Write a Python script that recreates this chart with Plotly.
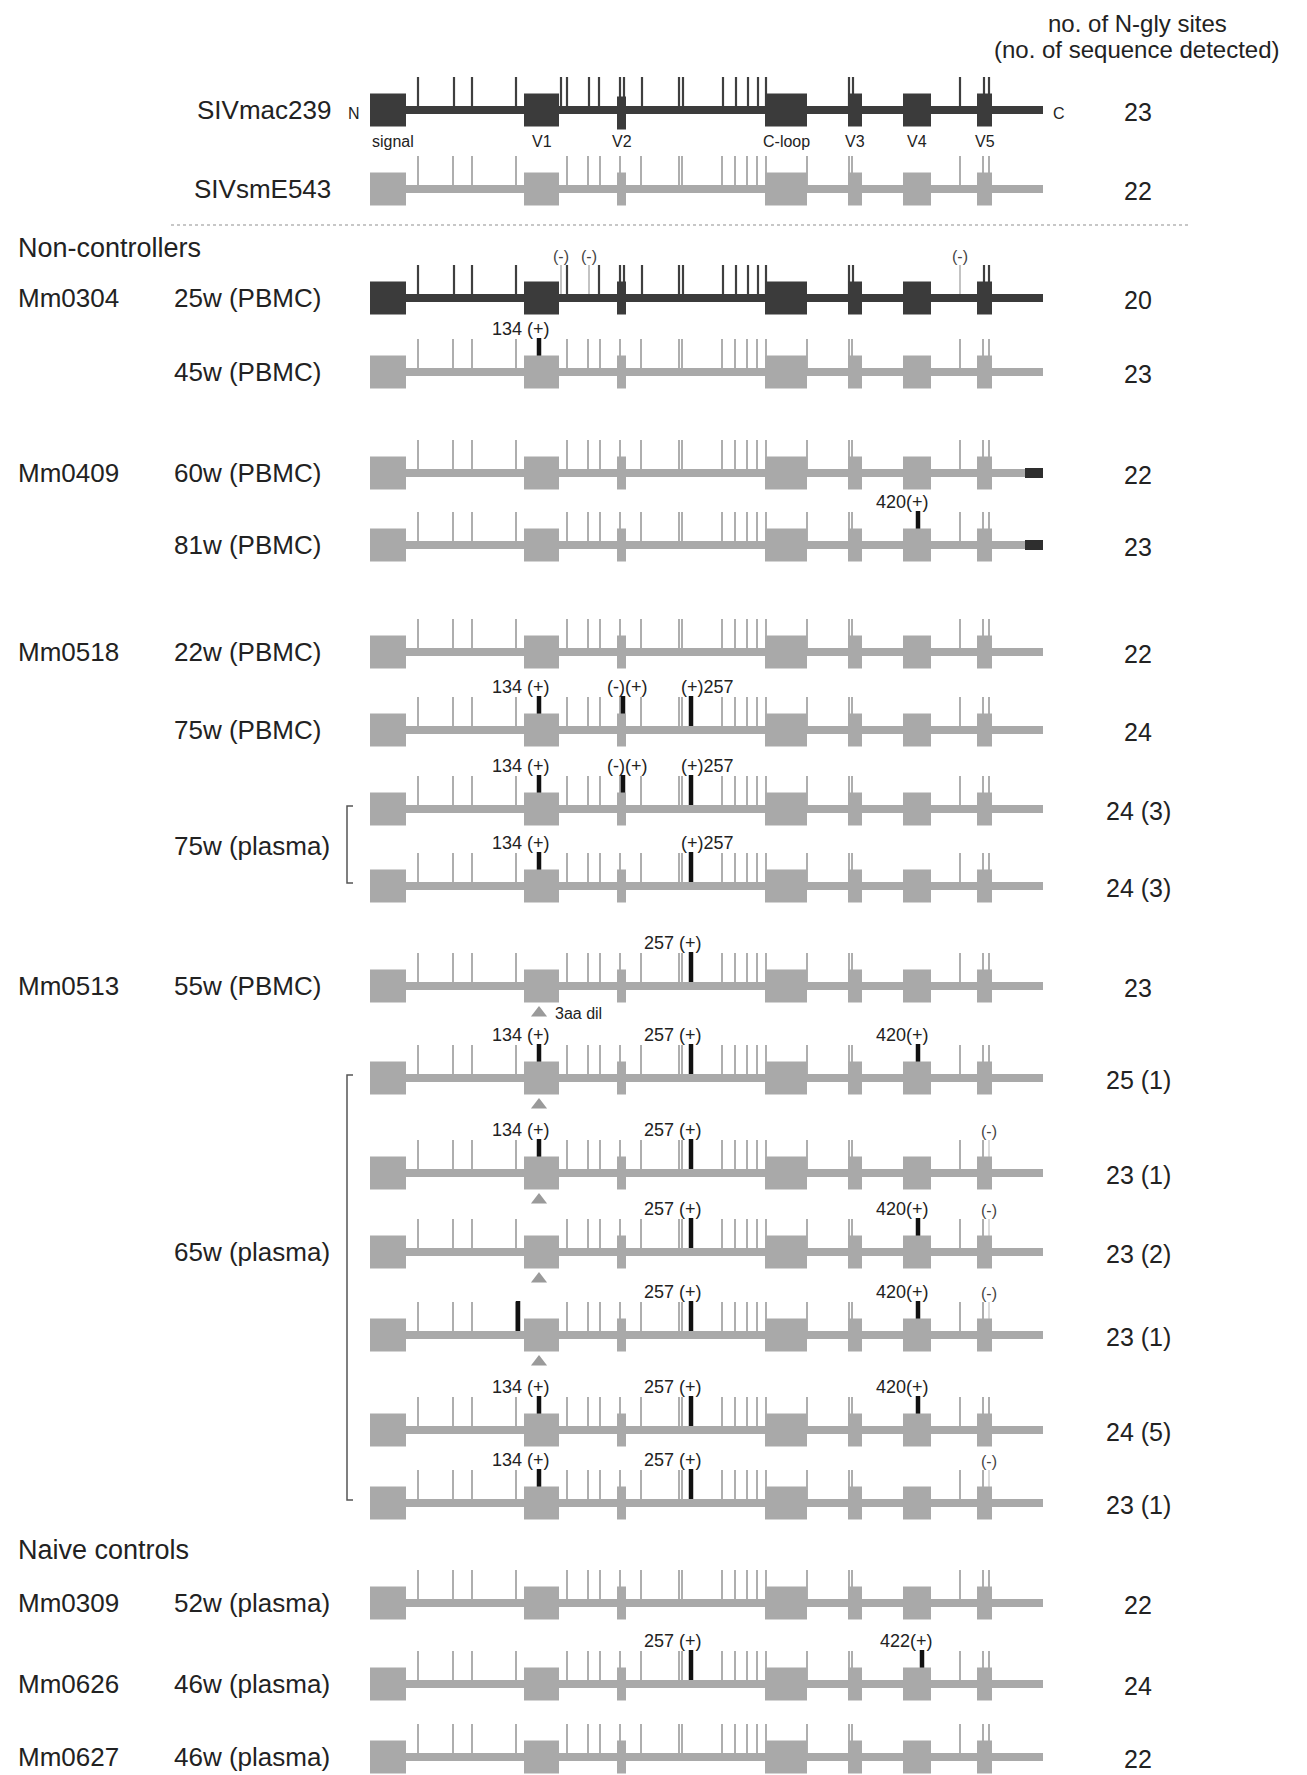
import plotly.graph_objects as go

W, H = 1307, 1775
PAGE_MARGIN = 8  # default body margin of the written page
FONT = "Liberation Sans, Arial, sans-serif"

# ---------------- data ----------------
# Env regions (diagram scale along the Env backbone)
region_names = ["signal", "V1", "V2", "C-loop", "V3", "V4", "V5"]
region_start = [370, 524, 617, 765, 848, 903, 977]
region_end = [406, 559, 626, 807, 862, 931, 992]
env_extent = [370, 1043]
ctail_extent = [1025, 1043]

# N-glycosylation sites of the reference viruses (diagram scale)
sites_mac239 = [418, 454, 472, 516, 561, 567, 589, 599, 620, 624, 642, 679, 683,
                723, 736, 748, 758, 766, 849, 853, 960, 984, 989]
sites_smE543 = [418, 453, 472, 516, 567, 588, 600, 620, 641, 679, 682, 722, 735,
                747, 757, 766, 807, 849, 852, 960, 983, 989]

animal_labels = ["", "", "Mm0304", "", "Mm0409", "", "Mm0518", "", "", "",
                 "Mm0513", "", "", "", "", "", "", "Mm0309", "Mm0626", "Mm0627"]
sample_labels = ["SIVmac239", "SIVsmE543", "25w (PBMC)", "45w (PBMC)", "60w (PBMC)",
                 "81w (PBMC)", "22w (PBMC)", "75w (PBMC)", "", "", "55w (PBMC)",
                 "", "", "", "", "", "", "52w (plasma)", "46w (plasma)", "46w (plasma)"]
n_sites_labels = ["23", "22", "20", "23", "22", "23", "22", "24", "24 (3)", "24 (3)",
                  "23", "25 (1)", "23 (1)", "23 (2)", "23 (1)", "24 (5)", "23 (1)",
                  "22", "24", "22"]
row_base = ["mac", "sm", "mac", "sm", "sm", "sm", "sm", "sm", "sm", "sm",
            "sm", "sm", "sm", "sm", "sm", "sm", "sm", "sm", "sm", "sm"]
gained_sites = [[], [], [], [539], [], [918], [], [539, 623, 691], [539, 623, 691],
                [539, 691], [691], [539, 691, 918], [539, 691], [691, 918],
                [518, 691, 918], [539, 691, 918], [539, 691], [], [691, 922], []]
gained_labels = [[], [], [], ["134 (+)"], [], ["420(+)"], [],
                 ["134 (+)", "(-)(+)", "(+)257"], ["134 (+)", "(-)(+)", "(+)257"],
                 ["134 (+)", "(+)257"], ["257 (+)"], ["134 (+)", "257 (+)", "420(+)"],
                 ["134 (+)", "257 (+)"], ["257 (+)", "420(+)"], ["", "257 (+)", "420(+)"],
                 ["134 (+)", "257 (+)", "420(+)"], ["134 (+)", "257 (+)"], [],
                 ["257 (+)", "422(+)"], []]
lost_sites = [[], [], [561, 589, 960], [], [], [], [], [], [], [], [], [],
              [989], [989], [989], [], [989], [], [], []]
v1_deletion = [False] * 10 + [True, True, True, True, True, False, False, False, False, False]
ctail_variant = [False, False, False, False, True, True] + [False] * 14

plasma_groups = [("75w (plasma)", 8, 9), ("65w (plasma)", 11, 16)]
section_titles = [("Non-controllers", 248), ("Naive controls", 1550)]
header_lines = ["no. of N-gly sites", "(no. of sequence detected)"]

# ---------------- layout constants ----------------
row_y = [110, 189, 298, 372, 473, 545, 652, 730, 809, 886, 986, 1078, 1173, 1252,
         1335, 1430, 1503, 1603, 1684, 1757]
group_label_y = {"75w (plasma)": 846, "65w (plasma)": 1252}
header_y = [23, 49]
dark_rows = {0, 2}
BOX_H = 16.5
BB_H = 4
TICK_H = 33
DARK = "#3b3b3b"
LIGHT = "#a9a9a9"

fig = go.Figure()
shapes = []
annotations = []


def ann(x, y, text, size, xanchor="center", yanchor="middle", color="#222"):
    annotations.append(dict(x=x, y=y, xref="x", yref="y", text=text, showarrow=False,
                            xanchor=xanchor, yanchor=yanchor,
                            font=dict(family=FONT, size=size, color=color)))


tick_sets = {"dark": ([], []), "light": ([], []), "gain": ([], []),
             "lost_light": ([], []), "lost_dark": ([], [])}


def add_tick(kind, x, y0, y1):
    xs, ys = tick_sets[kind]
    xs += [x, x, None]
    ys += [y0, y1, None]


tri_x, tri_y = [], []

for i, y in enumerate(row_y):
    dark = i in dark_rows
    col = DARK if dark else LIGHT
    base = sites_mac239 if row_base[i] == "mac" else sites_smE543
    lost = lost_sites[i]
    for s in base:
        if s in lost:
            continue
        add_tick("dark" if dark else "light", s, y - TICK_H, y)
    for s in lost:
        add_tick("lost_dark" if dark else "lost_light", s, y - TICK_H, y)
        ann(s, y - 42, "(-)", 16, color="#444")
    for s, lab in zip(gained_sites[i], gained_labels[i]):
        add_tick("gain", s, y - TICK_H - 1, y - 3)
        if lab.startswith("(+)"):
            ann(s - 12, y - 43, lab, 18, xanchor="left")
        elif lab.startswith("(-)"):
            ann(s + 26, y - 43, lab, 18, xanchor="right")
        elif lab:
            ann(s + 13, y - 43, lab, 18, xanchor="right")
    # backbone
    shapes.append(dict(type="rect", xref="x", yref="y", x0=env_extent[0], x1=env_extent[1],
                       y0=y - BB_H, y1=y + BB_H, fillcolor=col, line=dict(width=0)))
    if ctail_variant[i]:
        shapes.append(dict(type="rect", xref="x", yref="y", x0=ctail_extent[0],
                           x1=ctail_extent[1], y0=y - BB_H - 1, y1=y + BB_H + 1,
                           fillcolor="#2e2e2e", line=dict(width=0)))
    # region boxes
    for name, r0, r1 in zip(region_names, region_start, region_end):
        off = 3 if (name == "V2" and i == 0) else 0
        shapes.append(dict(type="rect", xref="x", yref="y", x0=r0, x1=r1,
                           y0=y - BOX_H + off, y1=y + BOX_H + off, fillcolor=col,
                           line=dict(width=0)))
    if v1_deletion[i]:
        tri_x.append(539)
        tri_y.append(y + 27)
    # labels
    if animal_labels[i]:
        ann(16, y, animal_labels[i], 26, xanchor="left")
    if sample_labels[i]:
        if sample_labels[i].startswith("SIV"):
            ann(333, y, sample_labels[i], 26, xanchor="right")
        else:
            ann(172, y, sample_labels[i], 26, xanchor="left")
    ann(1138, y + 2, n_sites_labels[i], 25)

# region names under SIVmac239, N / C termini
for name, r0, r1 in zip(region_names, region_start, region_end):
    cx = (r0 + r1) / 2 + (5 if name == "signal" else 0)
    ann(cx, row_y[0] + 31, name, 16)
ann(354, row_y[0] + 3, "N", 16)
ann(1059, row_y[0] + 3, "C", 16)
ann(553, row_y[10] + 27, "3aa dil", 16, xanchor="left")

# plasma groups: bracket + label
for lab, a, b in plasma_groups:
    ya, yb = row_y[a] - 3, row_y[b] - 3
    shapes.append(dict(type="path", xref="x", yref="y",
                       path=f"M 353 {ya} L 347 {ya} L 347 {yb} L 353 {yb}",
                       line=dict(color="#555", width=1.5)))
    ann(172, group_label_y[lab], lab, 26, xanchor="left")

for title, ty in section_titles:
    ann(16, ty, title, 27, xanchor="left")

# separator
shapes.append(dict(type="line", xref="x", yref="y", x0=171, x1=1188, y0=225, y1=225,
                   line=dict(color="#b5b5b5", width=1.5, dash="dot")))

# header
for txt, hy in zip(header_lines, header_y):
    ann(1137, hy, txt, 24)

styles = {"light": ("#9a9a9a", 1.6), "dark": ("#3f3f3f", 2.2),
          "lost_light": ("#d2d2d2", 1.6), "lost_dark": ("#b4b4b4", 1.6),
          "gain": ("#111111", 4.5)}
for k in ["light", "dark", "lost_light", "lost_dark", "gain"]:
    xs, ys = tick_sets[k]
    c, w = styles[k]
    fig.add_trace(go.Scatter(x=xs, y=ys, mode="lines", line=dict(color=c, width=w),
                             hoverinfo="skip"))
fig.add_trace(go.Scatter(x=tri_x, y=tri_y, mode="markers",
                         marker=dict(symbol="triangle-up", size=14, color="#9a9a9a"),
                         hoverinfo="skip"))

# The page adds an 8 px body margin; offset the axis ranges so that one data unit
# equals one screen pixel measured from the window's top-left corner.
fig.update_layout(width=W - PAGE_MARGIN, height=H - PAGE_MARGIN,
                  margin=dict(l=0, r=0, t=0, b=0),
                  paper_bgcolor="white", plot_bgcolor="white", showlegend=False,
                  xaxis=dict(range=[PAGE_MARGIN, W], visible=False, fixedrange=True),
                  yaxis=dict(range=[H, PAGE_MARGIN], visible=False, fixedrange=True),
                  shapes=shapes, annotations=annotations)
fig.write_html("out.html")
